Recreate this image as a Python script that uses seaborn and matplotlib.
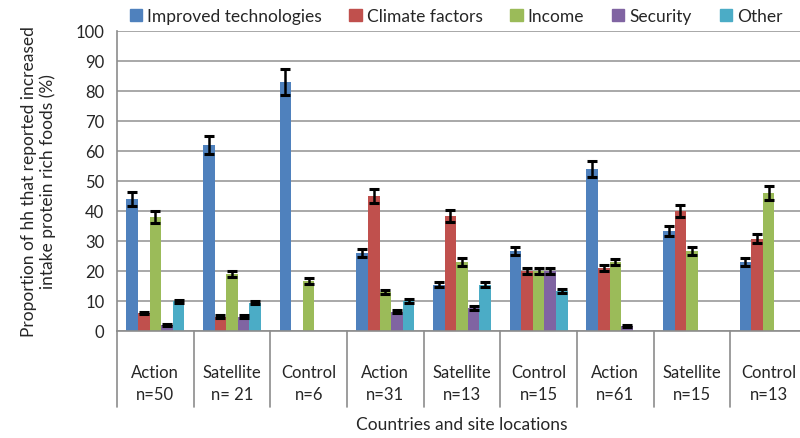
import numpy as np
import pandas as pd
import matplotlib
matplotlib.use('Agg')
import matplotlib.pyplot as plt
import matplotlib.transforms as mtransforms
import seaborn as sns

# site groups (3 countries x action / satellite / control)
sites = ['Action\nn=50', 'Satellite\nn= 21', 'Control\nn=6',
         'Action\nn=31', 'Satellite\nn=13', 'Control\nn=15',
         'Action\nn=61', 'Satellite\nn=15', 'Control\nn=13']
factors = ['Improved technologies', 'Climate factors', 'Income', 'Security', 'Other']

# proportions (%), NaN = no bar
improved = [44, 62, 83, 26, 15.4, 26.7, 54, 33.3, 23]
climate = [6, 4.8, np.nan, 45, 38.5, 20, 21, 40, 30.8]
income = [38, 19, 16.7, 13, 23, 20, 23, 26.7, 46]
security = [2, 4.8, np.nan, 6.5, 7.7, 20, 1.6, np.nan, np.nan]
other = [10, 9.5, np.nan, 10, 15.4, 13.3, np.nan, np.nan, np.nan]

# error bar half-widths
improved_err = [2.2, 3, 4.2, 1.3, 0.8, 1.4, 2.8, 1.7, 1.2]
climate_err = [0.4, 0.4, np.nan, 2.3, 2, 1, 1, 2, 1.5]
income_err = [2, 1, 1, 0.7, 1.2, 1, 1, 1.3, 2.3]
security_err = [0.3, 0.4, np.nan, 0.5, 0.6, 1, 0.3, np.nan, np.nan]
other_err = [0.5, 0.6, np.nan, 0.6, 0.8, 0.7, np.nan, np.nan, np.nan]

colors = ['#4F81BD', '#C0504D', '#9BBB59', '#8064A2', '#4BACC6']

values = [improved, climate, income, security, other]
errors = [improved_err, climate_err, income_err, security_err, other_err]

rows = []
for f, vals, errs in zip(factors, values, errors):
    for s, v, e in zip(sites, vals, errs):
        rows.append({'site': s, 'factor': f, 'value': v, 'err': e})
df = pd.DataFrame(rows)

sns.set_style('white')
plt.rcParams['font.family'] = ['Lato', 'DejaVu Sans']

fig = plt.figure(figsize=(8, 4.39), dpi=100)
ax = fig.add_axes([117 / 800, 107 / 439, 690 / 800, 300 / 439])

width = 0.76
sns.barplot(data=df.dropna(subset=['value']), x='site', y='value', hue='factor',
            order=sites, hue_order=factors, palette=colors, width=width,
            saturation=1, errorbar=None, legend=True, ax=ax, linewidth=0)

# error bars at the dodged bar centres
bw = width / len(factors)
for j, f in enumerate(factors):
    sub = df[df['factor'] == f]
    xs = np.arange(len(sites)) - width / 2 + bw * (j + 0.5)
    ax.errorbar(xs, sub['value'], yerr=sub['err'], fmt='none', ecolor='black',
                elinewidth=1.8, capsize=3.8, capthick=2.2, zorder=5)

ax.set_ylim(0, 100)
ax.set_xlim(-0.5, len(sites) - 0.5)
ax.set_yticks(range(0, 101, 10))
ax.yaxis.grid(True, color='#9a9a9a', linewidth=1.2)
ax.set_axisbelow(True)
for side in ['top', 'right']:
    ax.spines[side].set_visible(False)
for side in ['left', 'bottom']:
    ax.spines[side].set_color('#8c8c8c')
    ax.spines[side].set_linewidth(1.2)

ax.tick_params(axis='y', length=4, color='#8c8c8c', labelsize=12, pad=5)
ax.tick_params(axis='x', length=0, labelsize=12, pad=24)
for t in ax.get_xticklabels():
    t.set_linespacing(1.45)

# group separators below the axis
trans = mtransforms.blended_transform_factory(ax.transData, ax.transAxes)
for b in np.arange(-0.5, len(sites), 1.0):
    ax.plot([b, b], [0, -0.253], transform=trans, color='#8c8c8c',
            linewidth=1.2, clip_on=False)

ax.set_xlabel('Countries and site locations', fontsize=12.5)
ax.xaxis.set_label_coords(0.5, -0.285)
ax.set_ylabel('Proportion of hh that reported increased\nintake protein rich foods (%)',
              fontsize=12.5, labelpad=14)

ax.legend_.remove()
handles = [plt.Rectangle((0, 0), 1, 1, color=c) for c in colors]
fig.legend(handles, factors, loc='center', bbox_to_anchor=(0.57, 0.961), ncol=5,
           frameon=False, fontsize=12.5, handlelength=0.7, handleheight=0.7,
           handletextpad=0.3, columnspacing=1.6)

fig.savefig('out.png', dpi=100)
